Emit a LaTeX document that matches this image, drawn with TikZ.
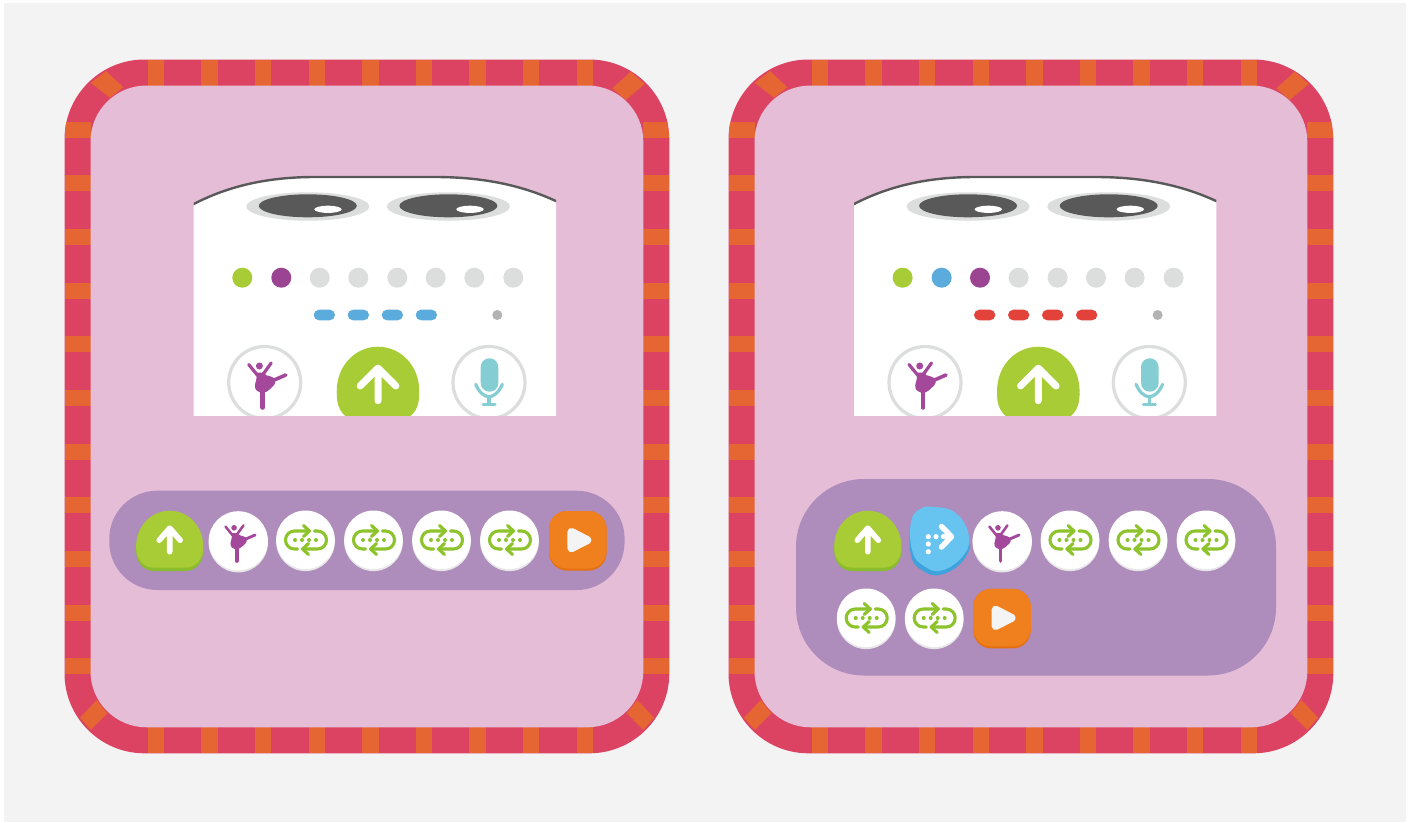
\documentclass[tikz,border=0pt]{standalone}
\definecolor{pagebg}{HTML}{F3F3F3}
\definecolor{cardborder}{HTML}{DC4363}
\definecolor{cardtick}{HTML}{E56632}
\definecolor{cardfill}{HTML}{E5BDD7}
\definecolor{barfill}{HTML}{AE8CBC}
\definecolor{dotgreen}{HTML}{A8CC35}
\definecolor{dotpurple}{HTML}{9B4592}
\definecolor{dotblue}{HTML}{5BACDD}
\definecolor{dotgrey}{HTML}{DCDDDD}
\definecolor{dashred}{HTML}{E2423A}
\definecolor{smallgrey}{HTML}{B3B3B3}
\definecolor{darkeye}{HTML}{5A5959}
\definecolor{miccol}{HTML}{84CDD3}
\definecolor{dancecol}{HTML}{A3489A}
\definecolor{loopcol}{HTML}{8DC32B}
\definecolor{greendark}{HTML}{8ABD2C}
\definecolor{orangefill}{HTML}{F0801E}
\definecolor{orangedark}{HTML}{E66F10}
\definecolor{bluefill}{HTML}{67C3F0}
\definecolor{bluedark}{HTML}{3EA2DC}
\definecolor{btnshadow}{HTML}{E6E6E6}
\definecolor{playcol}{HTML}{F4F4F4}
\tikzset{
  ticksty/.style={fill=cardtick,draw=none},
  ringbtn/.style={draw=dotgrey,line width=3.2pt,fill=white},
  wline/.style={draw=white,line cap=round,line join=round},
  loopline/.style={draw=loopcol,line width=3.1pt,line cap=round,line join=round},
  danceline/.style={draw=dancecol,line cap=round,line join=round}
}
\newcommand\cardframe[1]{%
\begin{scope}[xshift=#1pt]
  \fill[cardborder,rounded corners=80pt] (64.5,59.5) rectangle (669.3,753.3);
  \begin{scope}
  \clip[rounded corners=80pt] (64.5,59.5) rectangle (669.3,753.3);
  \foreach \t in {147.7,201.3,254.9,308.5,362.1,415.7,469.3,522.9,576.5}{
    \fill[ticksty] (\t,59.5) rectangle (\t+16.4,85.5);
    \fill[ticksty] (\t,727.3) rectangle (\t+16.4,753.3);
  }
  \foreach \t in {121.7,175.4,229,282.7,336.3,390,443.7,497.3,551,604.6,658.3}{
    \fill[ticksty] (64.5,\t) rectangle (90.5,\t+16);
    \fill[ticksty] (643.3,\t) rectangle (669.3,\t+16);
  }
  \fill[ticksty] (90.7,83) -- (106,71) -- (123.3,87.3) -- (110,97.7) -- cycle;
  \fill[ticksty] (630.7,71.7) -- (644.7,84) -- (625.7,100) -- (612.3,88.3) -- cycle;
  \fill[ticksty] (96.7,700) -- (107.3,713.3) -- (90.7,730) -- (80,717.7) -- cycle;
  \fill[ticksty] (637.3,700) -- (626.7,713.3) -- (643.3,730) -- (654,717.7) -- cycle;
  \end{scope}
  \fill[cardfill,rounded corners=56pt] (90.5,85.5) rectangle (643.3,727.3);
\end{scope}}
% dome-shaped green button
\newcommand\domepath{(-33.6,36) .. controls (-33.6,15) and (-18,0) .. (0,0) .. controls (18,0) and (33.6,15) .. (33.6,36) .. controls (33.6,48) and (27,57) .. (15,57) -- (-15,57) .. controls (-27,57) and (-33.6,48) .. (-33.6,36) -- cycle}
\newcommand\greenbtnsmall[2]{%
\begin{scope}[shift={(#1,#2)}]
  \begin{scope}[shift={(0,3.3)}]
    \fill[greendark] \domepath;
  \end{scope}
  \fill[dotgreen] \domepath;
  \draw[wline,line width=5.6pt] (0,41) -- (0,17.5) (-10.5,29.5) -- (0,17.5) -- (10.5,29.5);
\end{scope}}
\newcommand\greenbtnmain[2]{%
\begin{scope}[shift={(#1,#2)},scale=1.227]
  \begin{scope}[shift={(0,3.3)}]
    \fill[dotgreen] \domepath;
  \end{scope}
  \fill[dotgreen] \domepath;
  \draw[wline,line width=7pt] (0,44) -- (0,17.5) (-14.5,32) -- (0,17.5) -- (14.5,32);
\end{scope}}
\newcommand\dancer[3]{%
\begin{scope}[shift={(#1,#2)},scale=#3]
  \fill[dancecol] (-5.3,-16.5) circle (3.5);
  \draw[danceline,line width=#3*3.2pt] (-16,-18) -- (-7,-7);
  \draw[danceline,line width=#3*3.2pt] (6.5,-19.5) -- (-2.5,-7);
  \draw[danceline,line width=#3*3.6pt] (6,-1) -- (21,-7.5);
  \draw[danceline,line width=#3*4.6pt] (-2,6) -- (-2,25);
  \fill[dancecol] (-8.5,-10) -- (-1.5,-10) .. controls (0,-7) and (3,-7) .. (6,-6) .. controls (11,-5) and (12,0) .. (9,3) .. controls (6,6) and (3,9) .. (0,10) -- (-4.5,10) .. controls (-7,9) and (-9.8,8) .. (-9.8,3) .. controls (-9.8,0) and (-7,-3) .. (-8.5,-10) -- cycle;
\end{scope}}
\newcommand\danceround[2]{%
  \fill[btnshadow] (#1,#2+1.8) circle (29.6);
  \fill[white] (#1,#2-0.2) circle (29.6);
  \dancer{#1}{#2}{0.8}}
\newcommand\loopround[2]{%
  \fill[btnshadow] (#1,#2+1.8) circle (29.3);
  \fill[white] (#1,#2-0.2) circle (29.3);
  \begin{scope}[shift={(#1,#2)}]
    \draw[loopline] (4,-9) -- (-11,-9) .. controls (-16,-9) and (-20,-5) .. (-20,0) .. controls (-20,5) and (-16,9) .. (-11,9) -- (-8,9);
    \draw[loopline] (-2,-14.5) -- (4,-9) -- (-2,-3.5);
    \draw[loopline] (9,-9) -- (12,-9) .. controls (17,-9) and (21,-5) .. (21,0) .. controls (21,5) and (17,9) .. (12,9) -- (-3,9);
    \draw[loopline] (3,3.5) -- (-3,9) -- (3,14.5);
    \foreach \d in {-10.5,-3.5,3.5,10.5}{\fill[loopcol] (\d,0) circle (2);}
  \end{scope}}
\newcommand\orangebtn[2]{%
\begin{scope}[shift={(#1,#2)}]
  \fill[orangedark,rounded corners=18pt] (-28.8,-29.8) rectangle (28.8,29.8);
  \fill[orangefill,rounded corners=18pt] (-28.8,-29.8) rectangle (28.8,27.8);
  \filldraw[fill=playcol,draw=playcol,line width=8pt,line join=round] (-6.5,-9) -- (9.5,-0.7) -- (-6.5,7.5) -- cycle;
\end{scope}}
\newcommand\screenpanel[1]{%
\begin{scope}[xshift=#1pt]
  \begin{scope}
    \clip (193.7,170) rectangle (556,415);
    \path[fill=white,draw=darkeye,line width=2.4pt] (190,206) .. controls (225,187) and (265,177) .. (315,177) -- (435,177) .. controls (485,177) and (525,186) .. (560,203) -- (560,420) -- (190,420) -- cycle;
    \foreach \e/\h in {307.8/328,448.4/470}{
      \fill[dotgrey] (\e,206.5) ellipse (61.5 and 14.2);
      \fill[darkeye] (\e,205.8) ellipse (49 and 11.5);
      \fill[white] (\h,209.3) ellipse (13.7 and 3.6);
    }
    \fill[smallgrey] (497.3,315) circle (5);
    \draw[ringbtn] (264.7,382.5) circle (36);
    \draw[ringbtn] (489,382.5) circle (36);
    \dancer{264.7}{382.5}{1}
    \greenbtnmain{378}{346.7}
    \fill[miccol,rounded corners=8.7pt] (480.7,358.3) rectangle (498.3,391.7);
    \draw[draw=miccol,line width=3.2pt,line cap=round] (475.7,384.3) .. controls (479,392) and (484,396.7) .. (489,396.7) .. controls (494,396.7) and (499,392) .. (502.3,384.3);
    \draw[draw=miccol,line width=3.2pt] (489,396.7) -- (489,404.7);
    \draw[draw=miccol,line width=3pt,line cap=round] (483,404.7) -- (495,404.7);
  \end{scope}
\end{scope}}
\begin{document}
\begin{tikzpicture}[x=1pt,y=-1pt]
  \useasboundingbox (0,0) rectangle (1412,822);
  \fill[white] (0,0) rectangle (1412,822);
  \fill[pagebg] (4,3) rectangle (1406,821.5);
  \cardframe{0}
  \cardframe{664}

  % left screen
  \screenpanel{0}
  \foreach \x/\c in {242.3/dotgreen,281.3/dotpurple,319.7/dotgrey,358.3/dotgrey,397.3/dotgrey,435.7/dotgrey,474.3/dotgrey,513.3/dotgrey}{
    \fill[\c] (\x,277.7) circle (10);}
  \foreach \x in {313.7,347.7,381.7,415.7}{
    \fill[dotblue,rounded corners=5.3pt] (\x,309.7) rectangle (\x+21.3,320.3);}

  % right screen
  \screenpanel{660.3}
  \foreach \x/\c in {902.6/dotgreen,941.6/dotblue,980/dotpurple,1018.6/dotgrey,1057.6/dotgrey,1096/dotgrey,1134.6/dotgrey,1173.6/dotgrey}{
    \fill[\c] (\x,277.7) circle (10);}
  \foreach \x in {974,1008,1042,1076}{
    \fill[dashred,rounded corners=5.3pt] (\x,309.7) rectangle (\x+21.3,320.3);}

  % left program bar
  \fill[barfill,rounded corners=48pt] (109.3,490.7) rectangle (624.6,590);
  \greenbtnsmall{169.7}{510.7}
  \danceround{238.3}{541}
  \loopround{305.5}{540}
  \loopround{373.5}{540}
  \loopround{441.5}{540}
  \loopround{509.5}{540}
  \orangebtn{577.8}{540.8}

  % right program bar
  \fill[barfill,rounded corners=68pt] (796,479) rectangle (1276,675.5);
  \greenbtnsmall{867.8}{510.7}
  \fill[bluedark] plot[smooth cycle,tension=0.75] coordinates {(911,524) (920,511) (935,509.5) (955,515) (968.3,535) (965,558) (941.7,574.5) (921.7,570) (911,555)};
  \fill[bluefill] plot[smooth cycle,tension=0.75] coordinates {(911,522) (920,509) (935,507) (955,512.5) (968.3,533) (964.5,554) (941.7,570.5) (922.5,565) (912,550)};
  \draw[wline,line width=5.5pt] (941.5,526.5) -- (951.5,536.7) -- (941.5,547);
  \draw[wline,line width=4.5pt] (943,536.7) -- (950,536.7);
  \foreach \p in {(928.3,536.7),(936,536.7),(928.3,544),(928.3,551.7)}{\fill[white] \p circle (2.6);}
  \danceround{1002.2}{541}
  \loopround{1070}{540}
  \loopround{1138}{540}
  \loopround{1206}{540}
  \loopround{866.2}{618}
  \loopround{934.2}{618}
  \orangebtn{1002}{618.6}
\end{tikzpicture}
\end{document}
